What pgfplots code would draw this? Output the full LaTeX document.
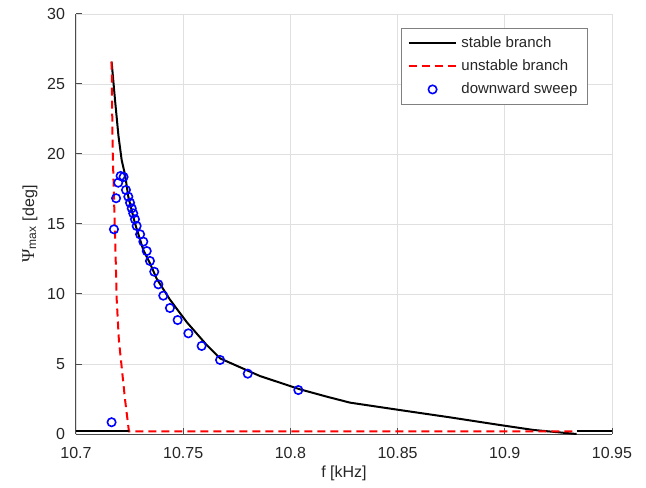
\documentclass[border=0pt]{standalone}
\usepackage{fontspec}
\setmainfont{Liberation Sans}
\newfontfamily\greekfont{Liberation Serif}
\usepackage{pgfplots}
\pgfplotsset{compat=1.18}

\definecolor{txt}{gray}{0.15}
\definecolor{gridc}{gray}{0.88}
\definecolor{axc}{gray}{0.3}

\begin{document}
\begin{tikzpicture}
\begin{axis}[
    name=ax,
    scale only axis,
    width=268pt, height=210pt,
    xmin=10.7, xmax=10.95,
    ymin=0, ymax=30,
    xtick={10.7,10.75,10.8,10.85,10.9,10.95},
    xticklabels={10.7,10.75,10.8,10.85,10.9,10.95},
    ytick={0,5,10,15,20,25,30},
    axis x line*=bottom, axis y line*=left,
    axis line style={axc, line width=0.5pt, -},
    tick align=inside,
    major tick length=3pt,
    tick style={axc, line width=0.5pt},
    grid=major,
    major grid style={gridc, line width=0.4pt},
    /pgf/number format/assume math mode=true,
    tick label style={font=\fontsize{8}{9}\selectfont, text=txt},
    xticklabel style={yshift=-3pt},
    yticklabel style={xshift=-2pt},
    label style={font=\fontsize{8}{9}\selectfont, text=txt},
    xlabel={f [kHz]},
    xlabel style={at={(axis description cs:0.5,-0.093)}, anchor=center},
    ylabel={{\greekfont\fontsize{9}{10}\selectfont Ψ}\textsubscript{max} [deg]},
    ylabel style={at={(axis description cs:-0.086,0.5)}, anchor=center},
    legend style={at={(0.955,0.967)}, anchor=north east,
        draw=black!50, line width=0.5pt, fill=white,
        font=\fontsize{7.5}{8.5}\selectfont, text=txt,
        row sep=0.6pt, inner xsep=3pt, inner ysep=2pt},
    legend cell align=left,
    legend image code/.code={\draw[mark repeat=2,mark phase=2]
        plot coordinates {(0cm,0cm) (0.42cm,0cm) (0.84cm,0cm)};},
]
% stable branch
\addplot[black, line width=1pt] coordinates {
    (10.7166,26.6) (10.7182,23.86) (10.7198,21.3) (10.7213,19.57)
    (10.7229,18.5) (10.7244,16.95) (10.7275,15.05) (10.7314,13.14)
    (10.7345,12.2) (10.7376,11.1) (10.7438,9.6) (10.7516,8.0)
    (10.7610,6.35) (10.7672,5.4) (10.7858,4.14) (10.8045,3.19)
    (10.8169,2.67) (10.8278,2.24) (10.8511,1.71) (10.8744,1.19)
    (10.8978,0.64) (10.9133,0.29) (10.9335,0.0)
};
\addlegendentry{stable branch}
% unstable branch
\addplot[red, line width=1pt, dash pattern=on 4pt off 2.5pt] coordinates {
    (10.7166,26.6) (10.7171,20.29) (10.7184,13.14) (10.7190,9.57)
    (10.7200,6.71) (10.7213,4.79) (10.7229,2.43) (10.7247,0.18)
    (10.9335,0.18)
};
\addlegendentry{unstable branch}
% downward sweep
\addplot[only marks, blue, mark=o, mark size=2.1pt, line width=0.8pt] coordinates {
    (10.7166,0.84) (10.7177,14.62) (10.7187,16.84) (10.7197,17.95)
    (10.7208,18.43) (10.7222,18.36) (10.7233,17.43) (10.7244,16.95)
    (10.7252,16.52) (10.7260,16.12) (10.7267,15.76) (10.7275,15.34)
    (10.7283,14.86) (10.7299,14.26) (10.7314,13.74) (10.7330,13.07)
    (10.7345,12.36) (10.7365,11.59) (10.7384,10.69) (10.7407,9.88)
    (10.7438,9.00) (10.7474,8.14) (10.7524,7.19) (10.7586,6.29)
    (10.7672,5.29) (10.7801,4.31) (10.8037,3.14)
};
\addlegendentry{downward sweep}
% low-amplitude stable pieces
\addplot[black, line width=1pt, forget plot] coordinates {(10.7,0.18) (10.7247,0.18)};
\addplot[black, line width=1pt, forget plot] coordinates {(10.9335,0.18) (10.95,0.18)};
\end{axis}
\path (ax.south west) ++(-38pt,-26.5pt) coordinate (bl);
\path (ax.north east) ++(17pt,7pt) coordinate (tr);
\path[use as bounding box] (bl) rectangle (tr);
\end{tikzpicture}
\end{document}
